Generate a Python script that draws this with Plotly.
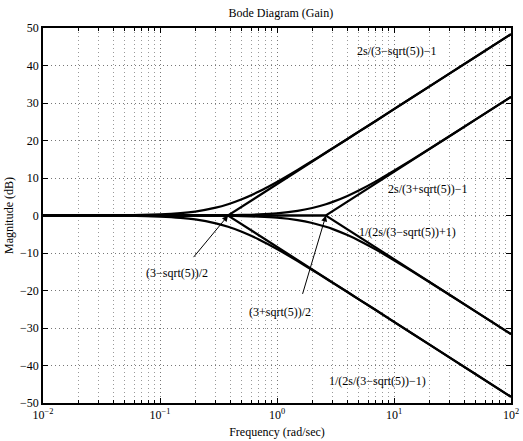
import plotly.graph_objects as go
import math

# Frequencies (rad/sec) sampled along the curves
freq = [0.01, 0.03, 0.05, 0.1, 0.15, 0.2, 0.3, 0.382, 0.5, 0.7, 1, 1.5, 2, 2.618, 3, 4, 5, 7, 10, 20, 50, 100]

# Exact gain curves (dB)
gain_up_low = [0.0, 0.03, 0.07, 0.29, 0.62, 1.05, 2.09, 3.01, 4.33, 6.39, 8.95, 12.15, 14.53, 16.8, 17.97, 20.4, 22.36, 25.2, 28.37, 34.38, 42.34, 48.36]
gain_up_high = [0.0, 0.0, 0.0, 0.01, 0.01, 0.03, 0.06, 0.09, 0.16, 0.30, 0.59, 1.23, 2.0, 3.01, 3.64, 5.23, 6.67, 9.11, 11.93, 17.74, 25.63, 31.64]
gain_dn_low = [-v for v in gain_up_low]
gain_dn_high = [-v for v in gain_up_high]

# Asymptotes (break points)
asym_low_w = [0.01, 0.382, 100]
asym_low_up = [0, 0, 48.36]
asym_low_dn = [0, 0, -48.36]
asym_high_w = [0.01, 2.618, 100]
asym_high_up = [0, 0, 31.64]
asym_high_dn = [0, 0, -31.64]

corner_low = 0.382
corner_high = 2.618

labels = ["2s/(3\u2212sqrt(5))\u22121", "2s/(3+sqrt(5))\u22121",
          "1/(2s/(3\u2212sqrt(5))+1)", "1/(2s/(3\u2212sqrt(5))\u22121)"]
label_x = [10**1.029, 10**1.294, 10**1.113, 10**0.861]
label_y = [44, 7.2, -4.4, -44.2]

x_ticks = [0.01, 0.1, 1, 10, 100]
x_ticktext = ["10<sup>\u22122</sup>", "10<sup>\u22121</sup>", "10<sup>0</sup>", "10<sup>1</sup>", "10<sup>2</sup>"]
minor_vals = [m * d for d in [0.01, 0.1, 1, 10] for m in range(2, 10)]

fig = go.Figure()
line = dict(color="black", width=2.2)
for ys in [gain_up_low, gain_up_high, gain_dn_low, gain_dn_high]:
    fig.add_trace(go.Scatter(x=freq, y=ys, mode="lines", hoverinfo="skip",
                             line=dict(color="black", width=2.2, shape="spline", smoothing=0.6)))
for w, ys in [(asym_low_w, asym_low_up), (asym_low_w, asym_low_dn), (asym_high_w, asym_high_up), (asym_high_w, asym_high_dn)]:
    fig.add_trace(go.Scatter(x=w, y=ys, mode="lines", line=line, hoverinfo="skip"))

font = dict(family="Liberation Serif", size=12, color="black")
anns = []
for t, x, y in zip(labels, label_x, label_y):
    anns.append(dict(x=math.log10(x), y=y, xref="x", yref="y", text=t, showarrow=False, font=font))
# Arrows to corner frequencies
anns.append(dict(x=math.log10(corner_low), y=0, ax=math.log10(0.189), ay=-11.5, xref="x", yref="y",
                 axref="x", ayref="y", text="", showarrow=True, arrowhead=2, arrowsize=1.2, arrowwidth=1, arrowcolor="black"))
anns.append(dict(x=math.log10(corner_high), y=0, ax=math.log10(1.64), ay=-21.3, xref="x", yref="y",
                 axref="x", ayref="y", text="", showarrow=True, arrowhead=2, arrowsize=1.2, arrowwidth=1, arrowcolor="black"))
anns.append(dict(x=-0.857, y=-15.2, xref="x", yref="y", text="(3\u2212sqrt(5))/2", showarrow=False, font=font))
anns.append(dict(x=0.029, y=-25.8, xref="x", yref="y", text="(3+sqrt(5))/2", showarrow=False, font=font))

fig.update_layout(
    width=523, height=441,
    margin=dict(l=43, r=4, t=28, b=38),
    paper_bgcolor="white", plot_bgcolor="white",
    showlegend=False,
    font=font,
    title=dict(text="Bode Diagram (Gain)", x=0.537, xanchor="center", y=0.972, yanchor="middle", font=font),
    annotations=anns,
)
fig.update_xaxes(
    type="log", range=[-2, 2], tickmode="array", tickvals=x_ticks, ticktext=x_ticktext,
    ticks="inside", ticklen=5, tickcolor="black", showline=True, linecolor="black", linewidth=1.5,
    mirror="allticks", showgrid=True, gridcolor="#777", griddash="1px,3px", gridwidth=1, zeroline=False,
    minor=dict(tickmode="array", tickvals=minor_vals, ticks="inside", ticklen=3, tickcolor="black",
               showgrid=True, gridcolor="#999", griddash="1px,3px", gridwidth=1),
    title=dict(text="Frequency (rad/sec)", font=font, standoff=6),
    tickfont=font, ticklabeloverflow="allow",
)
fig.update_yaxes(
    range=[-50, 50], tickmode="linear", tick0=-50, dtick=10,
    ticks="inside", ticklen=5, tickcolor="black", showline=True, linecolor="black", linewidth=1.5,
    mirror="allticks", showgrid=True, gridcolor="#777", griddash="1px,3px", gridwidth=1, zeroline=False,
    title=dict(text="Magnitude (dB)", font=font, standoff=4),
    tickfont=font,
)
fig.write_html("out.html", config={"displayModeBar": False},
               post_script="document.body.style.margin='0';document.body.style.overflow='hidden';")
